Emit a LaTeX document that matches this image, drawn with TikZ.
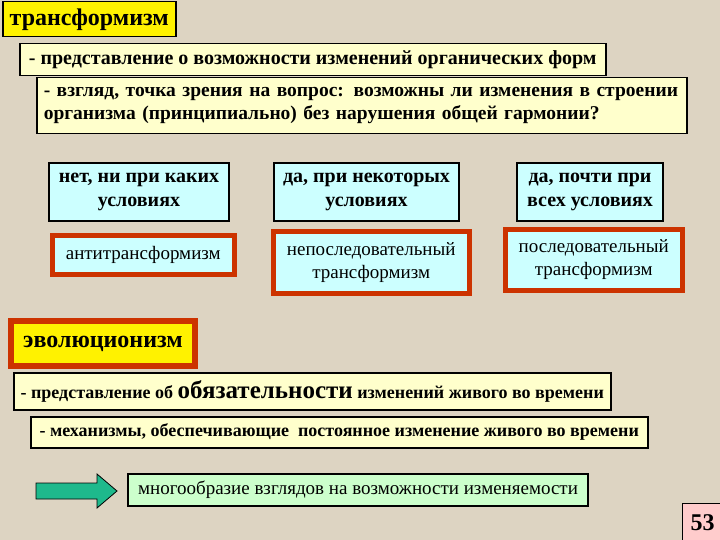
\documentclass[tikz,border=0pt]{standalone}
\usepackage{fontspec}
\setmainfont{Liberation Serif}
\definecolor{bg}{RGB}{221,212,194}
\definecolor{ltyellow}{RGB}{255,255,204}
\definecolor{ltcyan}{RGB}{204,255,255}
\definecolor{ltgreen}{RGB}{204,255,204}
\definecolor{redb}{RGB}{204,51,0}
\definecolor{teal2}{RGB}{30,185,140}
\definecolor{pink2}{RGB}{255,204,204}
\newcommand{\fs}[2]{\fontsize{#1}{#2}\selectfont}
\begin{document}
\begin{tikzpicture}[x=1pt,y=-1pt,
  base/.style={anchor=north west, inner sep=0pt, align=center},
  ybox/.style={base, draw=black, line width=1.5pt, fill=ltyellow, font=\bfseries\fs{20}{23}},
  cbox/.style={base, draw=black, line width=2pt, fill=ltcyan, font=\bfseries\fs{20}{24}},
  rbox/.style={base, draw=redb, line width=4.5pt, fill=ltcyan, font=\fs{19}{23}},
]
\fill[bg] (0,0) rectangle (720,540);
\useasboundingbox (0,0) rectangle (720,540);

\node[base, draw=black, line width=1.5pt, fill=yellow, minimum width=173pt, minimum height=35pt, font=\bfseries\fs{24}{28}] (t) at (2,1) {трансформизм};

\node[ybox, minimum width=586pt, minimum height=32pt] (p1) at (19,43) {- представление о возможности изменений органических форм};

\node[ybox, minimum height=56pt, text width=636pt, inner xsep=7pt, align=left, font=\bfseries\fs{19.5}{23}] (p2) at (36,77) {- взгляд, точка зрения на вопрос: возможны ли изменения в строении\\организма (принципиально) без нарушения общей гармонии?};

\node[cbox, minimum width=180pt, minimum height=58pt] (c1) at (48,162) {нет, ни при каких\\условиях};
\node[cbox, minimum width=185pt, minimum height=58pt] (c2) at (273,162) {да, при некоторых\\условиях};
\node[cbox, minimum width=146pt, minimum height=58pt] (c3) at (516,162) {да, почти при\\всех условиях};

\node[rbox, minimum width=182pt, minimum height=39pt] (r1) at (50,233) {антитрансформизм};
\node[rbox, minimum width=196pt, minimum height=62pt] (r2) at (271,229) {непоследовательный\\трансформизм};
\node[rbox, minimum width=177pt, minimum height=61pt] (r3) at (503,227) {последовательный\\трансформизм};

\node[base, draw=redb, line width=6pt, fill=yellow, minimum width=184pt, minimum height=45pt, font=\bfseries\fs{24}{26}] (e) at (8,318) {эволюционизм};

\node[ybox, minimum width=597pt, minimum height=37pt, font=\bfseries\fs{18}{22}] (o1) at (13,372) {- представление об {\fs{25}{26}обязательности} изменений живого во времени};

\node[ybox, minimum width=617pt, minimum height=31pt, font=\bfseries\fs{18}{22}] (o2) at (30,416) {- механизмы, обеспечивающие\ \ постоянное изменение живого во времени};

\draw[fill=teal2, draw=black, line width=0.8pt] (36,483) -- (97,483) -- (97,474) -- (117,491) -- (97,508) -- (97,499) -- (36,499) -- cycle;

\node[base, draw=black, line width=2pt, fill=ltgreen, minimum width=460pt, minimum height=32pt, font=\fs{19}{22}] (m) at (127,473) {многообразие взглядов на возможности изменяемости};

\node[base, draw=black, line width=1pt, fill=pink2, minimum width=40pt, minimum height=39pt, font=\bfseries\fs{24}{26}] (n) at (682,503) {53};
\end{tikzpicture}
\end{document}
